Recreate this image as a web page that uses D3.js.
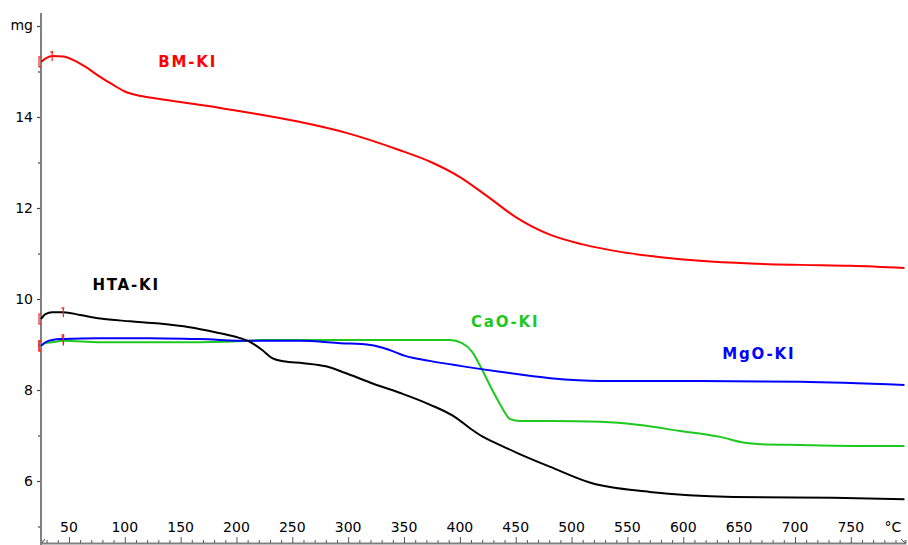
<!DOCTYPE html>
<html>
<head>
<meta charset="utf-8">
<script src="https://cdn.jsdelivr.net/npm/d3@7/dist/d3.min.js"></script>
<style>
  html, body { margin: 0; padding: 0; background: #fff; }
  svg { display: block; }
  text { font-family: "DejaVu Sans", Verdana, sans-serif; }
</style>
</head>
<body>
<svg id="chart" width="908" height="545"></svg>
<script>
// Thermogravimetric curves: sample mass (mg) against temperature (°C)
const bmTemp  = [25,30,35,45,55,65,78,90,100,115,130,170,210,255,300,345,375,400,425,450,480,510,545,580,615,660,705,750,798];
const bmMass  = [15.21,15.30,15.34,15.33,15.24,15.10,14.88,14.70,14.56,14.46,14.40,14.26,14.10,13.90,13.64,13.28,13.00,12.68,12.25,11.80,11.42,11.20,11.03,10.92,10.84,10.78,10.75,10.73,10.68];

const htaTemp = [25,29,35,45,60,78,105,131,158,181,199,212,223,232,242,260,280,297,320,346,373,396,409,420,436,451,481,517,570,645,734,798];
const htaMass = [9.56,9.67,9.71,9.71,9.65,9.57,9.51,9.46,9.38,9.27,9.17,9.06,8.88,8.70,8.63,8.59,8.52,8.38,8.16,7.94,7.68,7.40,7.16,6.98,6.79,6.62,6.31,5.96,5.76,5.65,5.63,5.60];

const caoTemp = [25,29,35,45,78,122,167,212,221,257,346,391,402,411,420,429,438,445,454,481,526,561,597,633,655,669,705,758,798];
const caoMass = [8.97,9.03,9.05,9.08,9.05,9.05,9.05,9.08,9.10,9.10,9.10,9.10,9.03,8.84,8.44,8.00,7.60,7.36,7.32,7.32,7.30,7.23,7.10,6.97,6.84,6.81,6.79,6.77,6.77];

const mgoTemp = [25,29,35,45,78,122,167,212,257,293,320,337,351,373,400,436,481,526,615,705,798];
const mgoMass = [8.97,9.05,9.10,9.12,9.14,9.14,9.12,9.08,9.08,9.03,8.99,8.88,8.75,8.64,8.53,8.40,8.26,8.20,8.20,8.18,8.11];

// Series names, colours, evaluation markers and label anchors (°C, mg)
const seriesNames  = ["BM-KI", "HTA-KI", "CaO-KI", "MgO-KI"];
const seriesColors = ["#ff0000", "#000000", "#1ec81e", "#0000ff"];
const markerTemps  = [35, 45, 45, 45];
const labelTemps   = [130, 71, 410, 635];
const labelMasses  = [15.10, 10.20, 9.38, 8.68];

// Axis ticks
const xTickLabels = [50,100,150,200,250,300,350,400,450,500,550,600,650,700,750];
const yTickLabels = [6,8,10,12,14];
const xUnit = "°C";
const yUnit = "mg";

const svg = d3.select("#chart");
const W = 908, H = 545;
const padLeft = 41, padRight = 905, axisBottom = 543, axisTop = 13;

const x = d3.scaleLinear().domain([25, 798.5]).range([padLeft, padRight]);
const y = d3.scaleLinear().domain([16, 6]).range([26, 481]);

const axisColor = "#808080";
const textColor = "#000";

// x axis: minor ticks every 10 °C, major every 50 °C, labels above the line
const xMinor = d3.range(30, 800, 10);
const xAxis = d3.axisTop(x).tickValues(xMinor).tickSize(3).tickFormat("");
const gx = svg.append("g").attr("transform", `translate(0,${axisBottom})`).call(xAxis);
gx.select(".domain").attr("stroke", axisColor).attr("stroke-width", 2);
gx.selectAll(".tick line").attr("stroke", "#555").attr("stroke-width", 1)
  .attr("y2", d => (d % 50 === 0 ? -6 : -3));

svg.append("g").selectAll("text").data(xTickLabels).join("text")
  .attr("x", d => x(d)).attr("y", 532)
  .attr("text-anchor", "middle").attr("font-size", 14).attr("fill", textColor)
  .text(d => d);
svg.append("text").attr("x", 893).attr("y", 532)
  .attr("text-anchor", "middle").attr("font-size", 14).attr("fill", textColor)
  .text(xUnit);

// small arrow heads at both ends of the temperature axis
svg.append("path").attr("d", `M${padRight - 4},${axisBottom - 4} L${padRight},${axisBottom}`)
  .attr("stroke", "#555").attr("fill", "none");
svg.append("path").attr("d", `M${padLeft + 1},${axisBottom} L${padLeft + 4},${axisBottom - 4}`)
  .attr("stroke", "#555").attr("fill", "none");

// y axis: major ticks at even mg values, minor at odd values
const yAll = d3.range(5, 17, 1);
const yAxis = d3.axisLeft(y).tickValues(yAll).tickSize(4).tickFormat("");
const gy = svg.append("g").attr("transform", `translate(${padLeft},0)`).call(yAxis);
gy.select(".domain").remove();
gy.selectAll(".tick line").attr("stroke", "#444").attr("stroke-width", 1.2)
  .attr("x2", d => (d % 2 === 0 ? -4 : -3));
svg.append("line").attr("x1", padLeft).attr("x2", padLeft).attr("y1", axisTop).attr("y2", H)
  .attr("stroke", axisColor).attr("stroke-width", 2);

svg.append("g").selectAll("text").data(yTickLabels).join("text")
  .attr("x", 33).attr("y", d => y(d) + 5)
  .attr("text-anchor", "end").attr("font-size", 14).attr("fill", textColor)
  .text(d => d);
svg.append("text").attr("x", 33).attr("y", y(16) + 4)
  .attr("text-anchor", "end").attr("font-size", 14).attr("fill", textColor)
  .text(yUnit);

// curves
const temps = [bmTemp, htaTemp, caoTemp, mgoTemp];
const masses = [bmMass, htaMass, caoMass, mgoMass];
const line = d3.line().x(d => x(d[0])).y(d => y(d[1])).curve(d3.curveMonotoneX);

// draw in order so the green trace sits beneath the blue one where they meet
const drawOrder = [0, 2, 3, 1];
drawOrder.forEach(i => {
  const pts = temps[i].map((t, k) => [t, masses[i][k]]);
  svg.append("path").datum(pts)
    .attr("d", line)
    .attr("fill", "none")
    .attr("stroke", seriesColors[i])
    .attr("stroke-width", 2)
    .attr("stroke-linejoin", "round");
});

// red evaluation markers: bracket at the curve start, tick at the marker temperature
const interp = (i, t) => {
  const ts = temps[i], ms = masses[i];
  const k = d3.bisectLeft(ts, t);
  if (k <= 0) return ms[0];
  if (k >= ts.length) return ms[ms.length - 1];
  const f = (t - ts[k - 1]) / (ts[k] - ts[k - 1]);
  return ms[k - 1] + f * (ms[k] - ms[k - 1]);
};
seriesNames.forEach((name, i) => {
  const x0 = x(temps[i][0]) - 2, y0 = y(masses[i][0]);
  svg.append("path")
    .attr("d", `M${x0 + 2},${y0 - 5} L${x0},${y0 - 5} L${x0},${y0 + 5} L${x0 + 2},${y0 + 5}`)
    .attr("stroke", "#ff2020").attr("stroke-width", 1.2).attr("fill", "none");
  const xm = x(markerTemps[i]), ym = y(interp(i, markerTemps[i]));
  svg.append("path")
    .attr("d", `M${xm},${ym - 5} L${xm},${ym + 5} M${xm - 2},${ym - 4} L${xm + 1},${ym - 4}`)
    .attr("stroke", "#ff2020").attr("stroke-width", 1.2).attr("fill", "none");
});

// series labels
seriesNames.forEach((name, i) => {
  svg.append("text")
    .attr("x", x(labelTemps[i])).attr("y", y(labelMasses[i]))
    .attr("font-size", 15).attr("font-weight", "bold")
    .attr("letter-spacing", 1.8)
    .attr("fill", seriesColors[i])
    .text(name);
});
</script>
</body>
</html>
